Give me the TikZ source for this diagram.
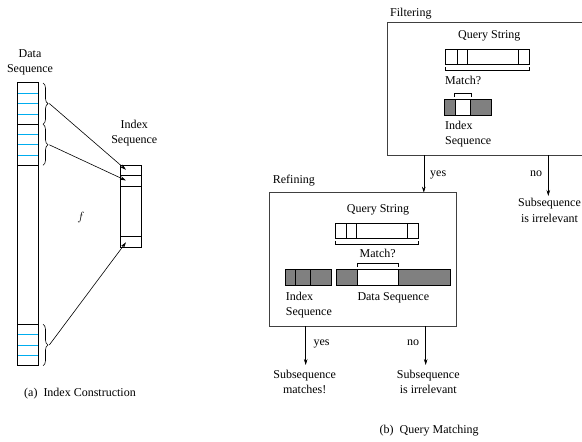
\documentclass[tikz,border=0pt]{standalone}
\usepackage{fontspec}
\setmainfont{Liberation Serif}
\usetikzlibrary{arrows.meta,decorations.pathreplacing}
\begin{document}
\begin{tikzpicture}[x=1pt,y=-1pt,
  lbl/.style={font=\fontsize{12}{14}\selectfont, inner sep=0pt, text height=8.5pt, text depth=2.5pt},
  lblL/.style={lbl, anchor=west},
  frame/.style={draw=black!75, line width=0.9pt},
  cell/.style={draw, line width=0.7pt},
  seg/.style={line width=0.7pt},
  cyanline/.style={cyan, line width=0.8pt},
  grayfill/.style={fill=black!50, draw, line width=0.7pt},
  bracketline/.style={line width=0.6pt},
  arr/.style={-{Stealth[length=6pt,width=3.6pt]}, line width=0.6pt},
  bracedeco/.style={decorate, decoration={brace, amplitude=5pt}, line width=0.6pt}]
\useasboundingbox (0,0) rectangle (582,442);

% ---------- (a) Index construction ----------
\node[lbl] (dtitle1) at (30,54) {Data};
\node[lbl] (dtitle2) at (30,69.3) {Sequence};
\draw[cell] (17.7,82.7) rectangle (38.7,365.7);
\foreach \y in {93.3,103.3,114,134.7,144.7,155,334.7,345,355.3}
  \draw[cyanline] (18.1,\y) -- (38.3,\y);
\foreach \y in {124.3,165.3,324.3}
  \draw[seg] (17.7,\y) -- (38.7,\y);

\draw[bracedeco] (43,83) -- (43,124.3);
\draw[bracedeco] (43,124.3) -- (43,165.3);
\draw[bracedeco] (43,324.3) -- (43,365.7);
\coordinate (b1) at (49.3,103.5);
\coordinate (b2) at (49.3,144.8);
\coordinate (b3) at (49.3,345);

\node[lbl] (ititle1) at (134.3,125.3) {Index};
\node[lbl] (ititle2) at (134.3,140.7) {Sequence};
\draw[cell] (120.7,165) rectangle (141.3,247.3);
\foreach \y in {175.3,186,236.7}
  \draw[seg] (120.7,\y) -- (141.3,\y);
\coordinate (c1) at (126,169.8);
\coordinate (c2) at (126,180.5);
\coordinate (c3) at (126,242.3);

\draw[arr] (b1) -- (c1);
\draw[arr] (b2) -- (c2);
\draw[arr] (b3) -- (c3);

\node[lbl] (fn) at (81,217) {$f$};
\node[lbl] (capa) at (80,393.3) {(a)\enspace Index Construction};

% ---------- (b) Query matching: Filtering ----------
\node[lblL] (filtlbl) at (390,13.3) {Filtering};
\draw[frame] (387.7,22.3) rectangle (584,155);
\node[lbl] (fq) at (489.3,35) {Query String};
\draw[cell] (445.7,49.3) rectangle (529.3,64.3);
\foreach \x in {457,467.3,518.7}
  \draw[seg] (\x,49.3) -- (\x,64.3);
\draw[bracketline] (445.7,67.3) -- (445.7,70.7) -- (529.3,70.7) -- (529.3,67.3);
\node[lblL] (fm) at (445,81.7) {Match?};
\draw[bracketline] (454.5,96.7) -- (454.5,93.3) -- (471.2,93.3) -- (471.2,96.7);
\draw[grayfill] (444,99.3) rectangle (491.7,115);
\draw[cell, fill=white] (455,99.3) rectangle (470.7,115);
\node[lblL] (fi1) at (445,126.7) {Index};
\node[lblL] (fi2) at (445,141.7) {Sequence};

\coordinate (fyes) at (423.8,155);
\coordinate (fno) at (548.3,155);
\coordinate (ryes) at (423.8,192.7);
\coordinate (nofilt) at (548.3,196);
\draw[arr] (fyes) -- (ryes);
\node[lblL] (fyeslbl) at (430,173.3) {yes};
\draw[arr] (fno) -- (nofilt);
\node[lbl] (fnolbl) at (536,173.3) {no};
\node[lbl] (irr1a) at (549.5,203.3) {Subsequence};
\node[lbl] (irr1b) at (549.5,219) {is irrelevant};

% ---------- Refining ----------
\node[lblL] (reflbl) at (272.7,180) {Refining};
\draw[frame] (269.3,192.7) rectangle (456,326);
\node[lbl] (rq) at (378,209.3) {Query String};
\draw[cell] (335.3,223.3) rectangle (418.3,238.3);
\foreach \x in {346,356.7,407.7}
  \draw[seg] (\x,223.3) -- (\x,238.3);
\draw[bracketline] (335.3,240.5) -- (335.3,244) -- (418.3,244) -- (418.3,240.5);
\node[lbl] (rm) at (377.7,254) {Match?};
\draw[bracketline] (357.3,266.7) -- (357.3,263.3) -- (398.3,263.3) -- (398.3,266.7);
\draw[grayfill] (285.3,269.3) rectangle (331.7,285.7);
\foreach \x in {295.7,310.7}
  \draw[seg] (\x,269.3) -- (\x,285.7);
\draw[grayfill] (336.7,269.3) rectangle (450,285.7);
\draw[cell, fill=white] (357.3,269.3) rectangle (398.7,285.7);
\node[lblL] (ri1) at (285.7,297.3) {Index};
\node[lblL] (ri2) at (285.7,312.3) {Sequence};
\node[lblL] (rd) at (357.3,297.3) {Data Sequence};

\coordinate (ryesS) at (305.7,326);
\coordinate (rnoS) at (425.7,326);
\coordinate (ryesE) at (305.7,365);
\coordinate (rnoE) at (425.7,365);
\draw[arr] (ryesS) -- (ryesE);
\draw[arr] (rnoS) -- (rnoE);
\node[lblL] (ryeslbl) at (313.3,342.7) {yes};
\node[lbl] (rnolbl) at (413,342.7) {no};
\node[lbl] (m1) at (304.7,375) {Subsequence};
\node[lbl] (m2) at (304.7,390) {matches!};
\node[lbl] (irr2a) at (428.3,375) {Subsequence};
\node[lbl] (irr2b) at (428.3,390) {is irrelevant};

\node[lbl] (capb) at (429.2,430) {(b)\enspace Query Matching};
\end{tikzpicture}
\end{document}
